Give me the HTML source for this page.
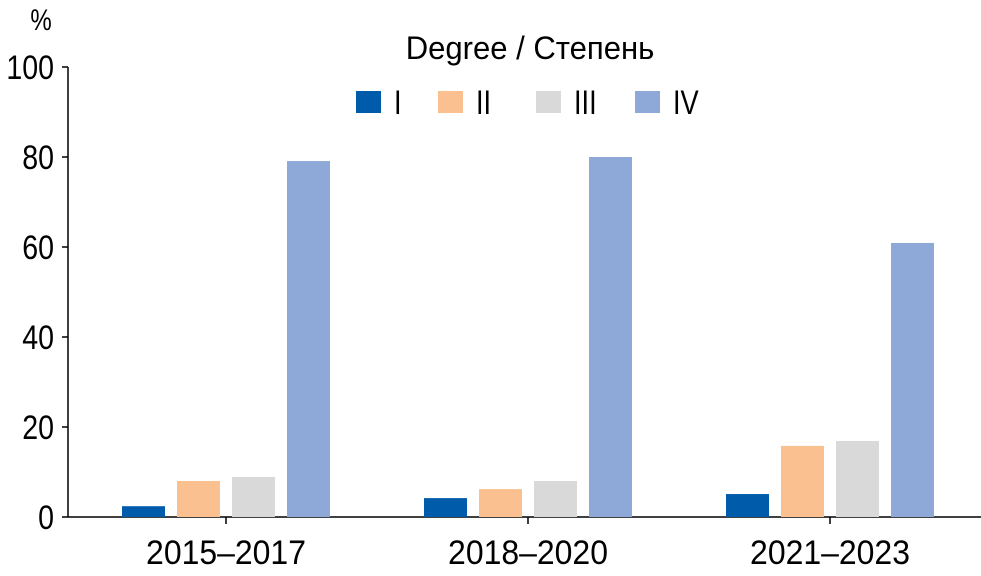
<!DOCTYPE html>
<html><head><meta charset="utf-8"><style>
body{margin:0;background:#fff;}
svg{display:block;font-family:"Liberation Sans",sans-serif;}
</style></head><body>
<svg id="chart" width="981" height="576"></svg>
<script>
const categories=["2015–2017","2018–2020","2021–2023"];
const seriesNames=["I","II","III","IV"];
const seriesColors=["#005bab","#fac090","#d9d9d9","#8ea9d8"];
const valuesI=[2.4,4.2,5.1];
const valuesII=[8,6.2,15.8];
const valuesIII=[8.9,8,16.9];
const valuesIV=[79.1,80,60.9];
const yTicks=[0,20,40,60,80,100];
const series=[valuesI,valuesII,valuesIII,valuesIV];
const NS="http://www.w3.org/2000/svg";
const svg=document.getElementById('chart');
const x0=75,bandW=302,y0=517,pxPer=4.5;
const yScale=v=>y0-v*pxPer;
function mk(t,a,p){const e=document.createElementNS(NS,t);for(const k in a)e.setAttribute(k,a[k]);(p||svg).appendChild(e);return e;}
function txt(x,y,s,anchor,size,sx,p){const e=mk('text',{x:0,y:0,'text-anchor':anchor,'font-size':size,transform:`translate(${x},${y}) scale(${sx},1)`},p);e.textContent=s;return e;}
const ya=mk('line',{x1:68,y1:67,x2:68,y2:517,stroke:'#000','stroke-width':1.5});


const xa=mk('line',{x1:68,y1:517,x2:981,y2:517,stroke:'#000','stroke-width':1.5});


yTicks.forEach(v=>{
  const y=yScale(v);
  mk('line',{x1:62,y1:y,x2:68,y2:y,stroke:'#000','stroke-width':1.5});
  const t=txt(54,y+12,String(v),'end',34,0.84);
  
  
});
const u=txt(41,30,'%','middle',30,0.8);


const barW=43,step=55,firstOff=47;
categories.forEach((c,i)=>{
  const bx=x0+i*bandW;
  const cx=bx+151;
  mk('line',{x1:cx,y1:517,x2:cx,y2:524,stroke:'#000','stroke-width':1.5});
  const t=txt(cx,564,c,'middle',34,0.94);
  
  
  series.forEach((s,j)=>{
    const v=s[i];
    const r=mk('rect',{x:bx+firstOff+j*step,y:yScale(v),width:barW,height:v*pxPer,fill:seriesColors[j]});
    
    
  });
});
const lt=txt(530,59,'Degree / Степень','middle',32,0.97);


const lx=[356,438,536,635];
seriesNames.forEach((n,j)=>{
  const g=mk('g',{});
  
  
  mk('rect',{x:lx[j],y:91,width:25,height:22,fill:seriesColors[j]},g);
  txt(lx[j]+38,114,n,'start',34,0.8,g);
});
</script>
</body></html>
